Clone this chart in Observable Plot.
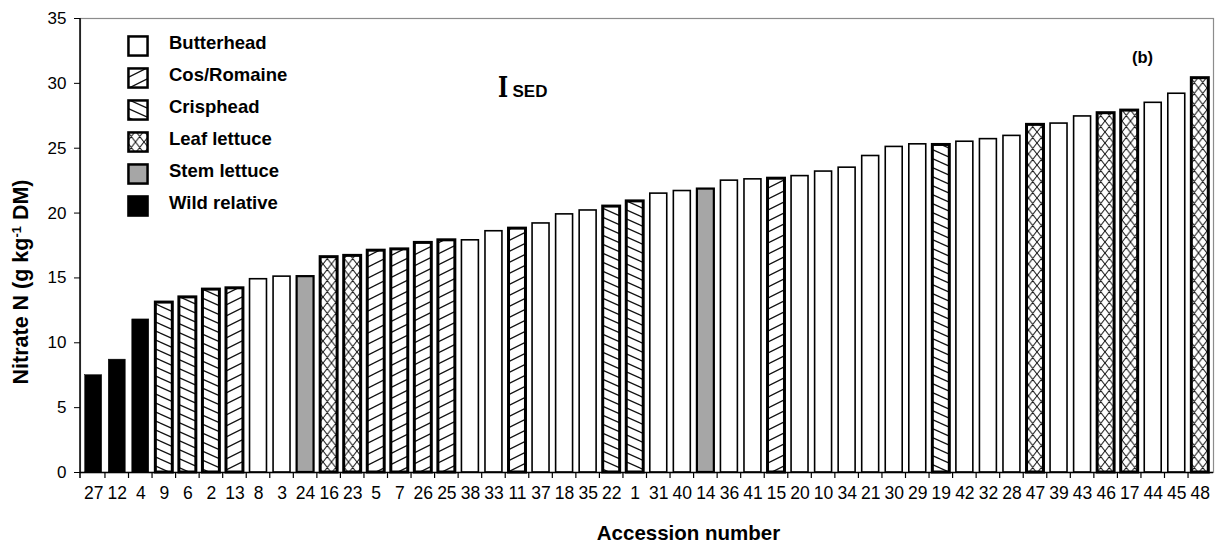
<!DOCTYPE html>
<html>
<head>
<meta charset="utf-8">
<script src="https://cdn.jsdelivr.net/npm/d3@7"></script>
<script src="https://cdn.jsdelivr.net/npm/@observablehq/plot@0.6"></script>
<style>
  body { margin: 0; background: #fff; }
  #wrap { position: relative; width: 1222px; height: 544px; font-family: "Liberation Sans", Arial, sans-serif; color: #000; overflow: hidden; }
  #wrap > svg { position: absolute; left: 0; top: 0; }
  .ov { position: absolute; white-space: nowrap; font-weight: bold; line-height: 1; }
  .leg-row { position: absolute; left: 127px; height: 22px; }
  .leg-row svg { position: absolute; left: 0; top: 0; }
  .leg-row span { position: absolute; left: 42px; top: -1.5px; font-size: 18.5px; font-weight: bold; line-height: 1; white-space: nowrap; }
</style>
</head>
<body>
<div id="wrap"></div>
<script>
// ---- data ----
const accessions = ["27","12","4","9","6","2","13","8","3","24","16","23","5","7","26","25",
  "38","33","11","37","18","35","22","1","31","40","14","36","41","15","20","10",
  "34","21","30","29","19","42","32","28","47","39","43","46","17","44","45","48"];
const nitrate = [7.5, 8.7, 11.8, 13.1, 13.5, 14.1, 14.2, 14.9, 15.1, 15.1, 16.6, 16.7, 17.1, 17.2, 17.7, 17.9,
  17.9, 18.6, 18.8, 19.2, 19.9, 20.2, 20.5, 20.9, 21.5, 21.7, 21.85, 22.5, 22.6, 22.65, 22.85, 23.2,
  23.5, 24.4, 25.1, 25.3, 25.25, 25.5, 25.7, 25.95, 26.8, 26.9, 27.45, 27.7, 27.9, 28.5, 29.2, 30.4];
const lettuceType = ["Wild relative","Wild relative","Wild relative","Crisphead","Crisphead","Crisphead","Cos/Romaine",
  "Butterhead","Butterhead","Stem lettuce","Leaf lettuce","Leaf lettuce","Cos/Romaine","Cos/Romaine","Cos/Romaine","Cos/Romaine",
  "Butterhead","Butterhead","Cos/Romaine","Butterhead","Butterhead","Butterhead","Crisphead","Crisphead",
  "Butterhead","Butterhead","Stem lettuce","Butterhead","Butterhead","Cos/Romaine","Butterhead","Butterhead",
  "Butterhead","Butterhead","Butterhead","Butterhead","Crisphead","Butterhead","Butterhead","Butterhead",
  "Leaf lettuce","Butterhead","Butterhead","Leaf lettuce","Leaf lettuce","Butterhead","Butterhead","Leaf lettuce"];
const legendTypes = ["Butterhead","Cos/Romaine","Crisphead","Leaf lettuce","Stem lettuce","Wild relative"];
const yTicks = [0, 5, 10, 15, 20, 25, 30, 35];
const xTitle = "Accession number";
const yTitleMain = "Nitrate N (g kg";
const yTitleSup = "-1";
const yTitleEnd = " DM)";
const panelLabel = "(b)";
const sedLabel = "SED";

// ---- styles ----
const typeStyle = {
  "Butterhead":    {fill: "#ffffff", stroke: "#000", sw: 1.6},
  "Cos/Romaine":   {fill: "url(#pat-cos)", stroke: "#000", sw: 3},
  "Crisphead":     {fill: "url(#pat-crisp)", stroke: "#000", sw: 3},
  "Leaf lettuce":  {fill: "url(#pat-leaf)", stroke: "#000", sw: 3},
  "Stem lettuce":  {fill: "#a6a6a6", stroke: "#000", sw: 2.2},
  "Wild relative": {fill: "#000000", stroke: "#000", sw: 0.5}
};

const data = accessions.map((a, i) => ({acc: a, value: nitrate[i], type: lettuceType[i]}));

// separators between bars + left axis line
function axisLines(index, scales, values, dims) {
  const x = scales.x, y = scales.y;
  const step = x(accessions[1]) - x(accessions[0]);
  const bw = typeof x.bandwidth === "function" ? x.bandwidth() : step * 0.72;
  const y0 = y(0);
  const g = d3.create("svg:g").attr("stroke", "#000").attr("stroke-width", 1.2);
  for (let i = 0; i < accessions.length - 1; i++) {
    const xx = x(accessions[i]) + bw + (step - bw) / 2;
    g.append("line").attr("x1", xx).attr("x2", xx).attr("y1", y0).attr("y2", y0 + 6);
  }
  g.append("line").attr("x1", dims.marginLeft).attr("x2", dims.marginLeft)
    .attr("y1", dims.marginTop).attr("y2", y0 + 6).attr("stroke-width", 1.5);
  return g.node();
}

const barMarks = legendTypes.map(t => Plot.barY(data.filter(d => d.type === t), {
  x: "acc", y: "value",
  fill: typeStyle[t].fill, stroke: typeStyle[t].stroke, strokeWidth: typeStyle[t].sw
}));

const chart = Plot.plot({
  width: 1222, height: 544,
  marginLeft: 80, marginRight: 9, marginTop: 18, marginBottom: 72,
  style: {fontFamily: "'Liberation Sans', Arial, sans-serif", fontSize: "17px", background: "transparent", color: "#000"},
  x: {domain: accessions, paddingInner: 0.28, paddingOuter: 0.2, round: false, label: null},
  y: {domain: [0, 35], label: null},
  marks: [
    Plot.frame({stroke: "#8c8c8c", strokeWidth: 1.2}),
    ...barMarks,
    Plot.ruleY([0], {stroke: "#000", strokeWidth: 1.5}),
    axisLines,
    Plot.axisX({tickSize: 0, tickPadding: 14, fontSize: 17.5, label: null}),
    Plot.axisY({ticks: yTicks, tickSize: 6, tickPadding: 8, fontSize: 17, label: null})
  ]
});

// ---- patterns ----
function addPatterns(svgEl) {
  const defs = d3.select(svgEl).insert("defs", ":first-child");
  function hatch(id, w, h, kind, sw) {
    const p = defs.append("pattern").attr("id", id).attr("patternUnits", "userSpaceOnUse")
      .attr("width", w).attr("height", h);
    p.append("rect").attr("width", w).attr("height", h).attr("fill", "#fff");
    let d = "";
    for (const ox of [-w, 0, w]) for (const oy of [-h, 0, h]) {
      if (kind === "back" || kind === "cross") d += `M${ox},${oy}L${ox + w},${oy + h}`;
      if (kind === "fwd" || kind === "cross") d += `M${ox},${oy + h}L${ox + w},${oy}`;
    }
    p.append("path").attr("d", d).attr("stroke", "#111").attr("stroke-width", sw).attr("fill", "none");
  }
  hatch("pat-crisp", 20, 9, "back", 1.3);
  hatch("pat-cos", 22, 11, "fwd", 1.3);
  hatch("pat-leaf", 8.5, 11, "cross", 1.0);
}
addPatterns(chart);

const wrap = document.getElementById("wrap");
wrap.appendChild(chart);

// ---- legend ----
legendTypes.forEach((t, i) => {
  const row = document.createElement("div");
  row.className = "leg-row";
  row.style.top = (35 + i * 32) + "px";
  const st = typeStyle[t];
  const sw = t === "Wild relative" ? 0 : 2.5;
  row.innerHTML = `<svg width="22" height="22"><rect x="${sw/2 + 0.2}" y="${sw/2 + 0.2}" width="${22 - sw - 0.4}" height="${22 - sw - 0.4}" fill="${st.fill}" stroke="#000" stroke-width="${sw}"/></svg>`;
  const label = document.createElement("span");
  label.textContent = t;
  row.appendChild(label);
  wrap.appendChild(row);
});

// ---- annotations ----
function ov(html, css) {
  const d = document.createElement("div");
  d.className = "ov";
  d.innerHTML = html;
  Object.assign(d.style, css);
  wrap.appendChild(d);
  return d;
}
ov(xTitle, {left: "688.5px", top: "522.5px", fontSize: "20.5px", transform: "translateX(-50%)"});
ov(`${yTitleMain}<sup style="font-size:0.6em;vertical-align:0.55em;line-height:0">${yTitleSup}</sup>${yTitleEnd}`,
   {left: "21.5px", top: "281.5px", fontSize: "21.5px", transform: "translate(-50%,-50%) rotate(-90deg)"});
ov(panelLabel, {left: "1132px", top: "49px", fontSize: "16.5px"});
ov("I", {left: "498px", top: "74px", fontSize: "27px", fontFamily: "'DejaVu Serif', serif", transform: "scaleX(0.8)", transformOrigin: "left top"});
ov(sedLabel, {left: "512.5px", top: "82.5px", fontSize: "17px"});
</script>
</body>
</html>
